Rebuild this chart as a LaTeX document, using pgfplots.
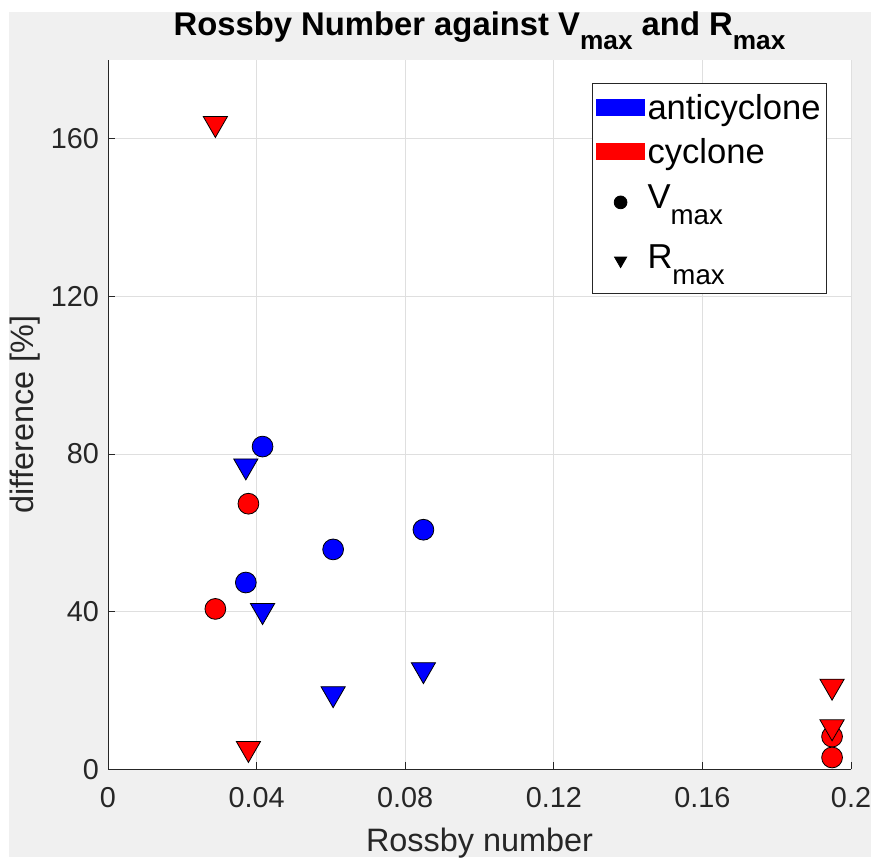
\documentclass[border=0pt]{standalone}
\usepackage{fontspec}
\setmainfont{Liberation Sans}
\usepackage{graphicx}
\usepackage{pgfplots}
\pgfplotsset{compat=1.18}
\definecolor{figbg}{RGB}{240,240,240}
\definecolor{axcol}{RGB}{38,38,38}
\definecolor{gridcol}{RGB}{223,223,223}
\newcommand{\sub}[1]{\raisebox{-0.45em}{\scalebox{0.8}{#1}}}
\pgfplotsset{
  legpatch/.style={legend image code/.code={\fill[#1] (0pt,-4pt) rectangle (24pt,4pt);}},
  legmark/.style={legend image code/.code={\path[draw=none,fill=none] (0pt,-4pt) rectangle (24pt,4pt); \draw[##1] plot coordinates {(12pt,0pt)};}},
}

\begin{document}
\begin{tikzpicture}
\useasboundingbox (0,0) rectangle (435.5pt,428.5pt);
\fill[white] (0,0) rectangle (435.5pt,428.5pt);
\fill[figbg] (4.5pt,0) rectangle (435.5pt,422.5pt);
\begin{axis}[
  at={(54pt,43.85pt)}, anchor=south west,
  width=371.5pt, height=354.65pt, scale only axis,
  xmin=0, xmax=0.2, ymin=0, ymax=180,
  xtick={0,0.04,0.08,0.12,0.16,0.2},
  xticklabels={0,0.04,0.08,0.12,0.16,0.2},
  ytick={0,40,80,120,160},
  axis x line*=bottom, axis y line*=left,
  axis line style={axcol, line width=0.5pt},
  tick style={axcol, line width=0.5pt},
  tick align=inside, major tick length=3.7pt,
  grid=major, major grid style={gridcol, line width=0.5pt},
  axis background/.style={fill=white},
  ticklabel style={font=\fontsize{14.4}{16}\selectfont, text=axcol},
  /pgf/number format/assume math mode=true,
  xticklabel style={yshift=-5.7pt},
  yticklabel style={xshift=-1pt},
  xlabel={Rossby number}, ylabel={difference [\%]},
  label style={font=\fontsize{16.2}{18}\selectfont, text=axcol},
  xlabel style={at={(axis description cs:0.5,-0.1162)}, anchor=base},
  ylabel style={at={(axis description cs:-0.1117,0.5)}, anchor=center},
  every axis title shift=0pt,
  title={\textbf{Rossby Number against V\sub{max} and R\sub{max}}},
  title style={at={(axis description cs:0.5,1.0352)}, anchor=base, font=\fontsize{16.4}{18}\selectfont},
  legend style={at={(0.9677,0.9676)}, anchor=north east, draw=axcol, fill=white,
    font=\fontsize{17.3}{20}\selectfont, inner xsep=1.75pt, inner ysep=0.5pt,
    nodes={inner xsep=1.25pt, inner ysep=0pt, text depth=}, row sep=0pt},
  legend cell align=left,
]
\addlegendimage{legpatch=blue}
\addlegendentry{\rule[-5.5pt]{0pt}{23pt}\smash{anticyclone}}
\addlegendimage{legpatch=red}
\addlegendentry{\rule[-4.4pt]{0pt}{21pt}\smash{cyclone}}
\addlegendimage{only marks, mark=*, mark size=3.2pt, black, legmark}
\addlegendentry{\rule[-11.7pt]{0pt}{30pt}\smash{V\sub{max}}}
\addlegendimage{only marks, mark=triangle*, mark size=3.5pt, black, mark options={yshift=0.9pt, rotate=180}, legmark}
\addlegendentry{\rule[-11.7pt]{0pt}{30pt}\smash{R\sub{max}}}

% anticyclone V_max
\addplot[only marks, mark=*, mark size=5.2pt, draw=black, fill=blue, line width=0.4pt, forget plot]
  coordinates {(0.0371,47.4) (0.0416,81.9) (0.0606,55.8) (0.0849,60.8)};
% anticyclone R_max
\addplot[only marks, mark=triangle*, mark size=7pt, draw=black, fill=blue, line width=0.4pt,
  mark options={yshift=1.75pt, rotate=180}, forget plot]
  coordinates {(0.0371,76.1) (0.0416,39.4) (0.0606,18.3) (0.0849,24.4)};
% cyclone V_max
\addplot[only marks, mark=*, mark size=5.2pt, draw=black, fill=red, line width=0.4pt, forget plot]
  coordinates {(0.0289,40.7) (0.0378,67.4) (0.1949,8.3) (0.1949,3.0)};
% cyclone R_max
\addplot[only marks, mark=triangle*, mark size=7pt, draw=black, fill=red, line width=0.4pt,
  mark options={yshift=1.75pt, rotate=180}, forget plot]
  coordinates {(0.0289,163.0) (0.0378,4.4) (0.1949,20.2) (0.1949,9.9)};
\end{axis}
\end{tikzpicture}
\end{document}
